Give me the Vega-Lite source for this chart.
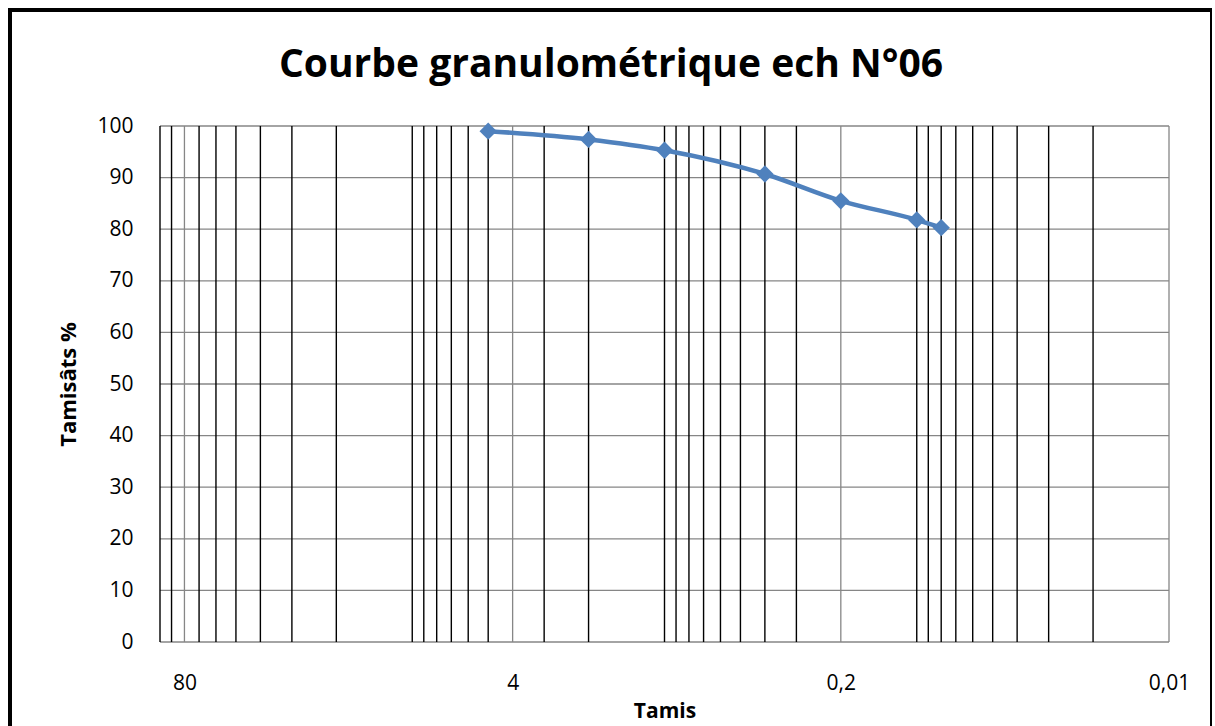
{
  "$schema": "https://vega.github.io/schema/vega-lite/v6.json",
  "width": 1202,
  "height": 730,
  "padding": {"left": 10, "top": 10, "right": 0, "bottom": 0},
  "autosize": {"type": "pad"},
  "background": "white",
  "config": {
    "view": {"stroke": "black", "strokeWidth": 4},
    "font": "Open Sans"
  },
  "title": {
    "text": "Courbe granulométrique ech N°06",
    "fontSize": 39,
    "fontWeight": "bold",
    "font": "Open Sans",
    "color": "black",
    "anchor": "middle",
    "frame": "group",
    "offset": -106,
    "baseline": "alphabetic"
  },
  "datasets": {
    "courbe": [
      {"tamis": 5, "tamisat": 99.0},
      {"tamis": 2, "tamisat": 97.4},
      {"tamis": 1, "tamisat": 95.3},
      {"tamis": 0.4, "tamisat": 90.7},
      {"tamis": 0.2, "tamisat": 85.5},
      {"tamis": 0.1, "tamisat": 81.8},
      {"tamis": 0.08, "tamisat": 80.3}
    ],
    "hgrid": [
      {"v": 0}, {"v": 10}, {"v": 20}, {"v": 30}, {"v": 40}, {"v": 50},
      {"v": 60}, {"v": 70}, {"v": 80}, {"v": 90}, {"v": 100}
    ],
    "vmajor": [
      {"d": 80}, {"d": 4}, {"d": 0.2}, {"d": 0.01}
    ],
    "sieves": [
      {"d": 100}, {"d": 90}, {"d": 70}, {"d": 60}, {"d": 50}, {"d": 40}, {"d": 30}, {"d": 20},
      {"d": 10}, {"d": 9}, {"d": 8}, {"d": 7}, {"d": 6}, {"d": 5}, {"d": 3}, {"d": 2},
      {"d": 1}, {"d": 0.9}, {"d": 0.8}, {"d": 0.7}, {"d": 0.6}, {"d": 0.5}, {"d": 0.4}, {"d": 0.3},
      {"d": 0.1}, {"d": 0.09}, {"d": 0.08}, {"d": 0.07}, {"d": 0.06}, {"d": 0.05}, {"d": 0.04}, {"d": 0.03}, {"d": 0.02}
    ]
  },
  "layer": [
    {
      "data": {"name": "hgrid"},
      "mark": {"type": "rule", "color": "#868686", "strokeWidth": 1.3},
      "encoding": {
        "y": {"field": "v", "type": "quantitative",
              "scale": {"domain": [0, 100], "range": [632, 116], "nice": false, "zero": false},
              "axis": {
                "values": [0, 10, 20, 30, 40, 50, 60, 70, 80, 90, 100],
                "grid": false, "domain": false, "ticks": false, "tickSize": 0,
                "labelPadding": 27, "labelFontSize": 21, "labelFont": "Open Sans", "labelColor": "black",
                "labelFlush": false, "labelOverlap": false,
                "offset": -150,
                "title": "Tamisâts %", "titleFontSize": 22, "titleFont": "Open Sans", "titleFontWeight": "bold",
                "titleColor": "black", "titleAngle": 270, "titleAlign": "center", "titleBaseline": "middle",
                "titleX": -92, "titleY": 374
              }},
        "x": {"datum": 100, "type": "quantitative",
              "scale": {"type": "log", "domain": [0.01, 100], "range": [1159, 150], "nice": false},
              "axis": {
                "values": [80, 4, 0.2, 0.01],
                "labelExpr": "replace(format(datum.value, ''), '.', ',')",
                "grid": false, "domain": false, "ticks": false, "tickSize": 0,
                "labelPadding": 30, "labelFontSize": 21, "labelFont": "Open Sans", "labelColor": "black",
                "labelFlush": false, "labelOverlap": false,
                "offset": -98,
                "title": "Tamis", "titleFontSize": 21, "titleFont": "Open Sans", "titleFontWeight": "bold",
                "titleColor": "black", "titleBaseline": "middle", "titleY": 69
              }},
        "x2": {"datum": 0.01}
      }
    },
    {
      "data": {"name": "vmajor"},
      "mark": {"type": "rule", "color": "#868686", "strokeWidth": 1.3},
      "encoding": {
        "x": {"field": "d", "type": "quantitative",
              "scale": {"type": "log", "domain": [0.01, 100], "range": [1159, 150], "nice": false}},
        "y": {"datum": 0, "type": "quantitative",
              "scale": {"domain": [0, 100], "range": [632, 116], "nice": false, "zero": false}},
        "y2": {"datum": 100}
      }
    },
    {
      "data": {"name": "sieves"},
      "mark": {"type": "rule", "color": "black", "strokeWidth": 1.4},
      "encoding": {
        "x": {"field": "d", "type": "quantitative",
              "scale": {"type": "log", "domain": [0.01, 100], "range": [1159, 150], "nice": false}},
        "y": {"datum": 0, "type": "quantitative",
              "scale": {"domain": [0, 100], "range": [632, 116], "nice": false, "zero": false}},
        "y2": {"datum": 100}
      }
    },
    {
      "data": {"name": "courbe"},
      "mark": {"type": "line", "color": "#4F81BD", "strokeWidth": 4.5, "interpolate": "monotone"},
      "encoding": {
        "x": {"field": "tamis", "type": "quantitative",
              "scale": {"type": "log", "domain": [0.01, 100], "range": [1159, 150], "nice": false}},
        "y": {"field": "tamisat", "type": "quantitative",
              "scale": {"domain": [0, 100], "range": [632, 116], "nice": false, "zero": false}}
      }
    },
    {
      "data": {"name": "courbe"},
      "mark": {"type": "point", "shape": "diamond", "filled": true, "size": 300, "color": "#4F81BD", "opacity": 1},
      "encoding": {
        "x": {"field": "tamis", "type": "quantitative",
              "scale": {"type": "log", "domain": [0.01, 100], "range": [1159, 150], "nice": false}},
        "y": {"field": "tamisat", "type": "quantitative",
              "scale": {"domain": [0, 100], "range": [632, 116], "nice": false, "zero": false}}
      }
    }
  ]
}
